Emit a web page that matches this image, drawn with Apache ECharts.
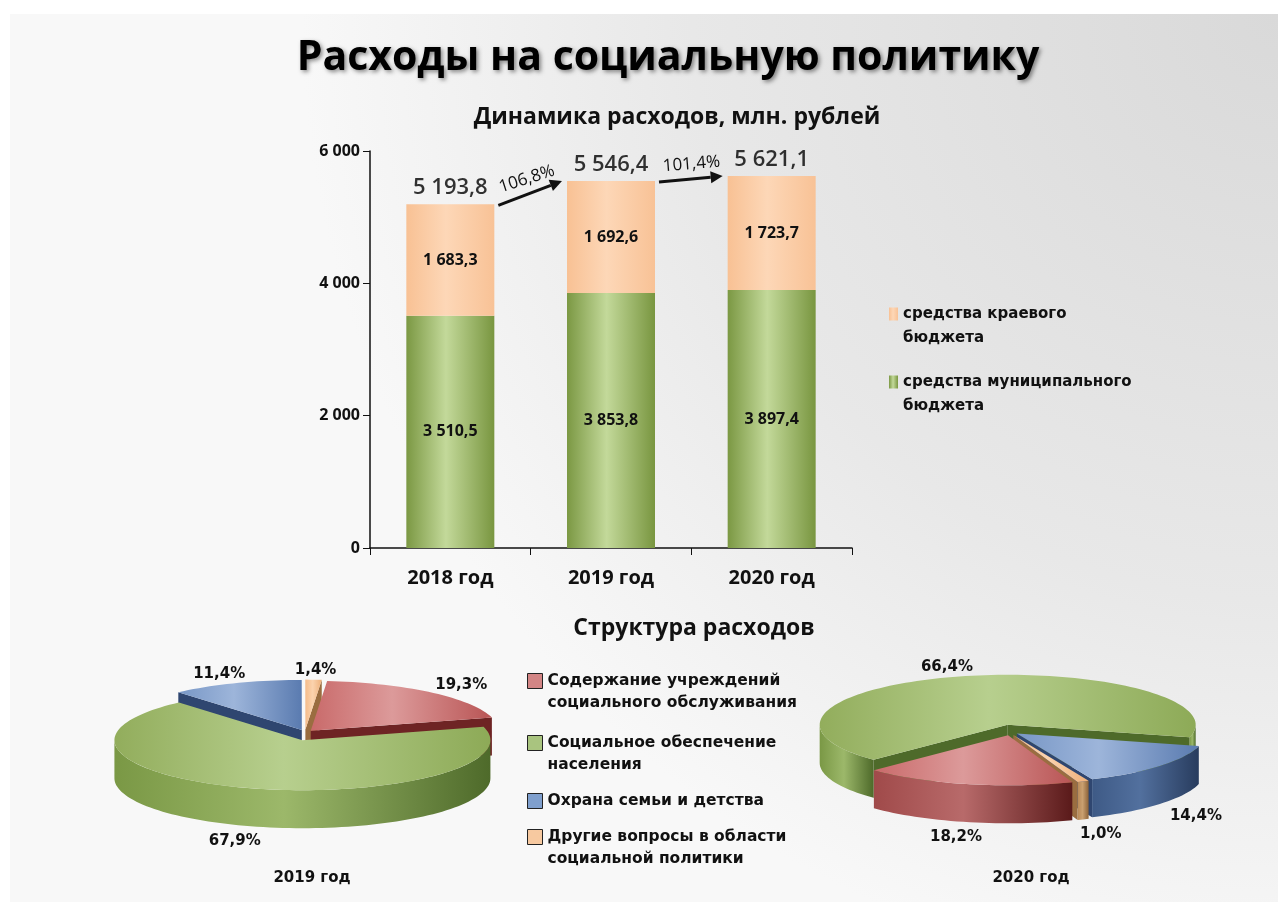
<!DOCTYPE html>
<html>
<head>
<meta charset="utf-8">
<script src="https://cdn.jsdelivr.net/npm/echarts@6/dist/echarts.min.js"></script>
<style>
  html, body { margin: 0; background: #fff; }
  #main { width: 1278px; height: 902px; }
</style>
</head>
<body>
<div id="main"></div>
<script>
// динамика расходов, млн. рублей
const years = ['2018 год', '2019 год', '2020 год'];
const munic = [3510.5, 3853.8, 3897.4];
const kraevoy = [1683.3, 1692.6, 1723.7];
const growth = [106.8, 101.4]; // % к предыдущему году, как на слайде
const yTicks = [0, 2000, 4000, 6000];

// структура расходов, %
const pieYears = ['2019 год', '2020 год'];
const pieCats = [
  'Содержание учреждений социального обслуживания',
  'Социальное обеспечение населения',
  'Охрана семьи и детства',
  'Другие вопросы в области социальной политики'
];
const share2019 = [19.3, 67.9, 11.4, 1.4];
const share2020 = [18.2, 66.4, 14.4, 1.0];

const totals = munic.map((v, i) => v + kraevoy[i]);
const pieShares = [share2019, share2020];

function fmt(v, d) {
  const s = v.toFixed(d).split('.');
  const int = s[0].replace(/\B(?=(\d{3})+(?!\d))/g, ' ');
  return s[1] ? int + ',' + s[1] : int;
}

const legendBreaks = {
  'средства краевого бюджета': 'средства краевого\nбюджета',
  'средства муниципального бюджета': 'средства муниципального\nбюджета',
  'Содержание учреждений социального обслуживания': 'Содержание учреждений\nсоциального обслуживания',
  'Социальное обеспечение населения': 'Социальное обеспечение\nнаселения',
  'Охрана семьи и детства': 'Охрана семьи и детства',
  'Другие вопросы в области социальной политики': 'Другие вопросы в области\nсоциальной политики'
};
// пустая строка сверху, чтобы значок стоял напротив первой строки
function legendText(n) {
  const t = legendBreaks[n];
  return t.indexOf('\n') > 0 ? ' \n' + t : t;
}

// псевдо-3D круговые диаграммы
const pieGeo = [
  { cx: 305, cy: 735, start: 5 },
  { cx: 1010, cy: 730, start: 160 }
];
const RX = 188, RY = 50, DEPTH = 38, EXPLODE = 9;
const sliceColors = [
  { base: '#d38585', top: ['#c96a6a', '#dc9a9a', '#b95555'], side: ['#a04a4a', '#b86a6a', '#5a1a1a'], cut: '#6e2424' },
  { base: '#a9c47f', top: ['#92ad5c', '#b7cf8e', '#8daa57'], side: ['#7a9845', '#9cb86a', '#4e6a2a'], cut: '#4e6a2a' },
  { base: '#7f9fcd', top: ['#7897c6', '#9db5da', '#5a7bb0'], side: ['#3e5a86', '#52709e', '#283c5e'], cut: '#2f4670' },
  { base: '#f7c9a0', top: ['#f5bc8a', '#fbd3ae', '#eeb07a'], side: ['#b88958', '#caa070', '#8c6238'], cut: '#9a6d40' }
];

function grad(stops) {
  return new echarts.graphic.LinearGradient(0, 0, 1, 0, [
    { offset: 0, color: stops[0] },
    { offset: 0.45, color: stops[1] },
    { offset: 1, color: stops[2] }
  ]);
}

function sliceRender(cat) {
  return function (params, api) {
    const p = params.dataIndex;
    const g = pieGeo[p];
    const shares = pieShares[p];
    const total = shares.reduce((s, v) => s + v, 0);
    let before = 0;
    for (let k = 0; k < cat; k++) before += shares[k];
    const a0 = g.start + before / total * 360;
    const a1 = a0 + api.value(0) / total * 360;
    const m = (a0 + a1) / 2;
    const mr = m * Math.PI / 180;
    const ox = g.cx + EXPLODE * Math.sin(mr);
    const oy = g.cy - EXPLODE * 0.6 * Math.cos(mr);
    const pt = function (a, dy) {
      const r = a * Math.PI / 180;
      return [ox + RX * Math.sin(r), oy - RY * Math.cos(r) + (dy || 0)];
    };
    const arc = function (from, to, dy) {
      const n = Math.max(2, Math.ceil(Math.abs(to - from) / 2));
      const pts = [];
      for (let j = 0; j <= n; j++) pts.push(pt(from + (to - from) * j / n, dy));
      return pts;
    };
    const c = sliceColors[cat];
    const zBase = 100 + Math.round(-Math.cos(mr) * 40) * 4;
    const children = [];
    const face = function (a) {
      return {
        type: 'polygon',
        shape: { points: [[ox, oy], pt(a), pt(a, DEPTH), [ox, oy + DEPTH]] },
        style: { fill: c.cut },
        z2: zBase
      };
    };
    if (Math.sin(a0 * Math.PI / 180) < -0.01) children.push(face(a0));
    if (Math.sin(a1 * Math.PI / 180) > 0.01) children.push(face(a1));
    for (let k = -1; k <= 2; k++) {
      const lo = Math.max(a0, 90 + 360 * k);
      const hi = Math.min(a1, 270 + 360 * k);
      if (hi > lo) {
        children.push({
          type: 'polygon',
          shape: { points: arc(lo, hi, 0).concat(arc(hi, lo, DEPTH)) },
          style: { fill: grad(c.side) },
          z2: zBase + 1
        });
      }
    }
    children.push({
      type: 'polygon',
      shape: { points: [[ox, oy]].concat(arc(a0, a1, 0)) },
      style: { fill: grad(c.top) },
      z2: zBase + 2
    });
    // подпись доли
    const cm = Math.cos(mr);
    const lx = g.cx + RX * 1.3 * Math.sin(mr);
    const ly = g.cy - RY * 1.3 * cm + (cm < 0 ? DEPTH + 6 : 0);
    children.push({
      type: 'text',
      style: {
        text: fmt(api.value(0), 1) + '%',
        x: lx, y: ly,
        fill: '#111',
        font: 'bold 15px "DejaVu Sans"',
        align: 'center',
        verticalAlign: 'middle'
      },
      z2: 1000
    });
    return { type: 'group', children: children };
  };
}

const chart = echarts.init(document.getElementById('main'));

const pieSeries = pieCats.map(function (name, cat) {
  return {
    name: name,
    type: 'custom',
    coordinateSystem: 'none',
    itemStyle: { color: sliceColors[cat].base },
    renderItem: sliceRender(cat),
    data: pieShares.map(s => s[cat])
  };
});

const barLegendTops = [273, 341];
const pieLegendTops = [643, 705, 785, 799];
const barLegendNames = ['средства краевого бюджета', 'средства муниципального бюджета'];

const legends = barLegendNames.map((n, i) => ({
  data: [n],
  orient: 'vertical',
  left: 884, top: barLegendTops[i],
  itemWidth: 9, itemHeight: 13,
  icon: 'rect',
  selectedMode: false,
  formatter: legendText,
  textStyle: { fontFamily: 'DejaVu Sans', fontWeight: 'bold', fontSize: 15, lineHeight: 24, color: '#111' }
})).concat(pieCats.map((n, i) => ({
  data: [n],
  orient: 'vertical',
  left: 522, top: pieLegendTops[i],
  itemWidth: 15, itemHeight: 15,
  icon: 'rect',
  selectedMode: false,
  itemStyle: { borderColor: '#222', borderWidth: 1 },
  formatter: legendText,
  textStyle: { fontFamily: 'DejaVu Sans', fontWeight: 'bold', fontSize: 15.5, lineHeight: 22, color: '#111' }
})));

const option = {
  backgroundColor: '#fff',
  animation: false,
  title: [
    {
      text: 'Расходы на социальную политику',
      left: 663, top: 33, textAlign: 'center',
      textStyle: {
        fontFamily: 'Open Sans', fontWeight: 'bold', fontSize: 41, color: '#000',
        textShadowColor: 'rgba(0,0,0,0.45)', textShadowBlur: 4, textShadowOffsetX: 2, textShadowOffsetY: 2
      }
    },
    {
      text: 'Динамика расходов, млн. рублей',
      left: 672, top: 101, textAlign: 'center',
      textStyle: { fontFamily: 'Open Sans', fontWeight: 'bold', fontSize: 23, color: '#111' }
    },
    {
      text: 'Структура расходов',
      left: 689, top: 612, textAlign: 'center',
      textStyle: { fontFamily: 'Open Sans', fontWeight: 'bold', fontSize: 23, color: '#111' }
    },
    {
      text: pieYears[0],
      left: 307, top: 866, textAlign: 'center',
      textStyle: { fontFamily: 'DejaVu Sans', fontWeight: 'bold', fontSize: 15, color: '#111' }
    },
    {
      text: pieYears[1],
      left: 1026, top: 866, textAlign: 'center',
      textStyle: { fontFamily: 'DejaVu Sans', fontWeight: 'bold', fontSize: 15, color: '#111' }
    }
  ],
  legend: legends,
  grid: { left: 370, right: 426, top: 151, bottom: 354 },
  xAxis: {
    type: 'category',
    data: years,
    axisLine: { lineStyle: { color: '#111', width: 1.5 } },
    axisTick: { show: true, length: 7, lineStyle: { color: '#111' } },
    axisLabel: { fontFamily: 'Open Sans', fontWeight: 'bold', fontSize: 20, color: '#111', margin: 20 }
  },
  yAxis: {
    type: 'value',
    min: yTicks[0], max: yTicks[yTicks.length - 1], interval: yTicks[1] - yTicks[0],
    splitLine: { show: false },
    axisLine: { show: true, lineStyle: { color: '#111', width: 1.5 } },
    axisTick: { show: true, length: 7, lineStyle: { color: '#111' } },
    axisLabel: {
      fontFamily: 'Open Sans', fontWeight: 'bold', fontSize: 16, color: '#111', margin: 10,
      formatter: v => fmt(v, 0)
    }
  },
  series: [
    {
      name: 'средства муниципального бюджета',
      type: 'bar', stack: 'all', barWidth: 88,
      itemStyle: {
        color: new echarts.graphic.LinearGradient(0, 0, 1, 0, [
          { offset: 0, color: '#7b9843' },
          { offset: 0.45, color: '#c3d99a' },
          { offset: 1, color: '#799640' }
        ])
      },
      label: {
        show: true, position: 'inside',
        fontFamily: 'Open Sans', fontWeight: 'bold', fontSize: 16, color: '#111',
        formatter: p => fmt(p.value, 1)
      },
      data: munic
    },
    {
      name: 'средства краевого бюджета',
      type: 'bar', stack: 'all', barWidth: 88,
      itemStyle: {
        color: new echarts.graphic.LinearGradient(0, 0, 1, 0, [
          { offset: 0, color: '#f8c194' },
          { offset: 0.45, color: '#fdd7b7' },
          { offset: 1, color: '#f8c296' }
        ])
      },
      label: {
        show: true, position: 'inside',
        fontFamily: 'Open Sans', fontWeight: 'bold', fontSize: 16, color: '#111',
        formatter: p => fmt(p.value, 1)
      },
      data: kraevoy
    },
    {
      name: 'итого',
      type: 'scatter',
      symbolSize: 1,
      itemStyle: { color: 'transparent' },
      label: {
        show: true, position: 'top', distance: 5,
        fontFamily: 'Open Sans', fontWeight: 600, fontSize: 22, color: '#000',
        formatter: p => fmt(p.value[1], 1)
      },
      data: totals.map((t, i) => [i, t])
    }
  ].concat(pieSeries)
};

chart.setOption(option);

// фон слайда, стрелки роста и проценты
const graphics = [
  {
    type: 'rect', z: -100, silent: true,
    shape: { x: 10, y: 14, width: 1268, height: 888 },
    style: {
      fill: new echarts.graphic.RadialGradient(1, 0, 1.1, [
        { offset: 0, color: '#d9d9d9' },
        { offset: 0.6, color: '#e8e8e8' },
        { offset: 1, color: '#f8f8f8' }
      ])
    }
  }
];
for (let i = 0; i < totals.length - 1; i++) {
  const p0 = chart.convertToPixel({ gridIndex: 0 }, [i, totals[i]]);
  const p1 = chart.convertToPixel({ gridIndex: 0 }, [i + 1, totals[i + 1]]);
  const x0 = p0[0] + 44 + 4, y0 = p0[1] + 1;
  const x1 = p1[0] - 44 - 5, y1 = p1[1];
  const len = Math.hypot(x1 - x0, y1 - y0);
  const dx = (x1 - x0) / len, dy = (y1 - y0) / len;
  const hx = x1 - dx * 12, hy = y1 - dy * 12;
  graphics.push({
    type: 'line', z: 50,
    shape: { x1: x0, y1: y0, x2: hx, y2: hy },
    style: { stroke: '#111', lineWidth: 3 }
  });
  graphics.push({
    type: 'polygon', z: 50,
    shape: { points: [[x1, y1], [hx - dy * 6, hy + dx * 6], [hx + dy * 6, hy - dx * 6]] },
    style: { fill: '#111' }
  });
  const mx = (x0 + x1) / 2 + dy * 15 + 2, my = (y0 + y1) / 2 - dx * 15;
  graphics.push({
    type: 'text', z: 50,
    x: mx, y: my,
    rotation: Math.atan2(-(y1 - y0), x1 - x0) * 0.85,
    style: {
      text: fmt(growth[i], 1) + '%',
      x: 0, y: 0,
      fill: '#111',
      font: '17px "Open Sans"',
      align: 'center',
      verticalAlign: 'middle'
    }
  });
}
chart.setOption({ graphic: { elements: graphics } });
</script>
</body>
</html>
